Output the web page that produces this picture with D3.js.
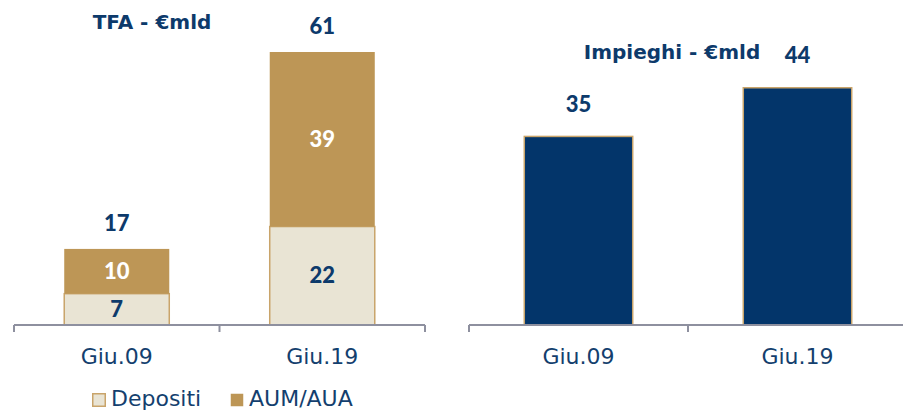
<!DOCTYPE html>
<html>
<head>
<meta charset="utf-8">
<script src="https://cdn.jsdelivr.net/npm/d3@7"></script>
<style>
  body { margin: 0; background: #fff; }
  svg { display: block; }
  .val { font-family: Lato, sans-serif; font-weight: 900; font-size: 22px; }
  .title { font-family: "DejaVu Sans", sans-serif; font-weight: 700; font-size: 20px; fill: #0d3a6b; }
  .cat { font-family: "DejaVu Sans", sans-serif; font-size: 22px; fill: #143f6e; }
  .leg { font-family: "DejaVu Sans", sans-serif; font-size: 22px; fill: #143f6e; }
</style>
</head>
<body>
<svg id="chart"></svg>
<script>
// Data
const categories = ["Giu.09", "Giu.19"];
const depositi = [7, 22];
const aum = [10, 39];
const tfaTotal = [17, 61];
const impieghi = [35, 44];
const legendLabels = ["Depositi", "AUM/AUA"];

const navy = "#03356a";
const textNavy = "#0d3a6b";
const tan = "#bd9656";
const beige = "#e9e4d4";
const axisGrey = "#8e909f";

const svg = d3.select("#chart").attr("width", 903).attr("height", 411);

const baseY = 325;

// ---------- Left chart: TFA stacked ----------
const xL = d3.scaleBand().domain(categories).range([14, 425]).paddingInner(0.484).paddingOuter(0.242);
const yL = d3.scaleLinear().domain([0, 61]).range([baseY, 52]);

const stackData = categories.map((c, i) => ({ cat: c, Depositi: depositi[i], AUM: aum[i] }));
const series = d3.stack().keys(["Depositi", "AUM"])(stackData);
const fills = { Depositi: beige, AUM: tan };

const left = svg.append("g");
series.forEach(s => {
    left.selectAll(".seg-" + s.key)
        .data(s)
        .enter().append("rect")
        .attr("x", d => xL(d.data.cat) + 0.5)
        .attr("y", d => yL(d[1]))
        .attr("width", xL.bandwidth() - 1)
        .attr("height", d => yL(d[0]) - yL(d[1]))
        .attr("fill", fills[s.key])
        .attr("stroke", s.key === "Depositi" ? "#c9a46a" : "none")
        .attr("stroke-width", 1.5);

    left.selectAll(".lab-" + s.key)
        .data(s)
        .enter().append("text")
        .attr("class", "val")
        .attr("x", d => xL(d.data.cat) + xL.bandwidth() / 2)
        .attr("y", d => (yL(d[0]) + yL(d[1])) / 2)
        .attr("dy", "0.35em")
        .attr("text-anchor", "middle")
        .attr("fill", s.key === "Depositi" ? textNavy : "#fff")
        .text(d => d[1] - d[0]);
});

// totals
left.selectAll(".tot")
    .data(categories)
    .enter().append("text")
    .attr("class", "val")
    .attr("x", d => xL(d) + xL.bandwidth() / 2)
    .attr("y", (d, i) => yL(tfaTotal[i]) - 18)
    .attr("text-anchor", "middle")
    .attr("fill", textNavy)
    .text((d, i) => tfaTotal[i]);

// axis
function drawAxis(g, x0, x1, ticks) {
    g.append("line").attr("x1", x0).attr("x2", x1).attr("y1", baseY).attr("y2", baseY)
        .attr("stroke", axisGrey).attr("stroke-width", 2);
    g.selectAll(".tk").data(ticks).enter().append("line")
        .attr("x1", d => d).attr("x2", d => d)
        .attr("y1", baseY).attr("y2", baseY + 7)
        .attr("stroke", axisGrey).attr("stroke-width", 2);
}
drawAxis(left, 14, 425, [14, xL.step() + 14, 425]);

left.selectAll(".cat")
    .data(categories)
    .enter().append("text")
    .attr("class", "cat")
    .attr("x", d => xL(d) + xL.bandwidth() / 2)
    .attr("y", 364)
    .attr("text-anchor", "middle")
    .text(d => d);

left.append("text").attr("class", "title")
    .attr("x", 152).attr("y", 29)
    .attr("text-anchor", "middle")
    .text("TFA - €mld");

// legend
const legX = [92, 230];
const legFill = [beige, tan];
legendLabels.forEach((l, i) => {
    left.append("rect")
        .attr("x", legX[i] + 0.75).attr("y", 393.75)
        .attr("width", 12.5).attr("height", 12.5)
        .attr("fill", legFill[i])
        .attr("stroke", i === 0 ? "#c9a46a" : "none")
        .attr("stroke-width", 1.5);
    left.append("text").attr("class", "leg")
        .attr("x", legX[i] + 19).attr("y", 406)
        .text(l);
});

// ---------- Right chart: Impieghi ----------
const xR = d3.scaleBand().domain(categories).range([469, 907]).paddingInner(0.498).paddingOuter(0.249);
const yR = d3.scaleLinear().domain([0, 44]).range([baseY, 87]);

const right = svg.append("g");
right.selectAll(".bar")
    .data(impieghi)
    .enter().append("rect")
    .attr("x", (d, i) => xR(categories[i]) + 0.75)
    .attr("y", d => yR(d) + 0.75)
    .attr("width", xR.bandwidth() - 1.5)
    .attr("height", d => baseY - yR(d) - 0.75)
    .attr("fill", navy)
    .attr("stroke", "#c9a46a")
    .attr("stroke-width", 1.5);

right.selectAll(".tot")
    .data(impieghi)
    .enter().append("text")
    .attr("class", "val")
    .attr("x", (d, i) => xR(categories[i]) + xR.bandwidth() / 2)
    .attr("y", d => yR(d) - 24)
    .attr("text-anchor", "middle")
    .attr("fill", textNavy)
    .text(d => d);

drawAxis(right, 469, 907, [469, 469 + xR.step()]);

right.selectAll(".cat")
    .data(categories)
    .enter().append("text")
    .attr("class", "cat")
    .attr("x", d => xR(d) + xR.bandwidth() / 2)
    .attr("y", 364)
    .attr("text-anchor", "middle")
    .text(d => d);

right.append("text").attr("class", "title")
    .attr("x", 672).attr("y", 59)
    .attr("text-anchor", "middle")
    .text("Impieghi - €mld");
</script>
</body>
</html>
